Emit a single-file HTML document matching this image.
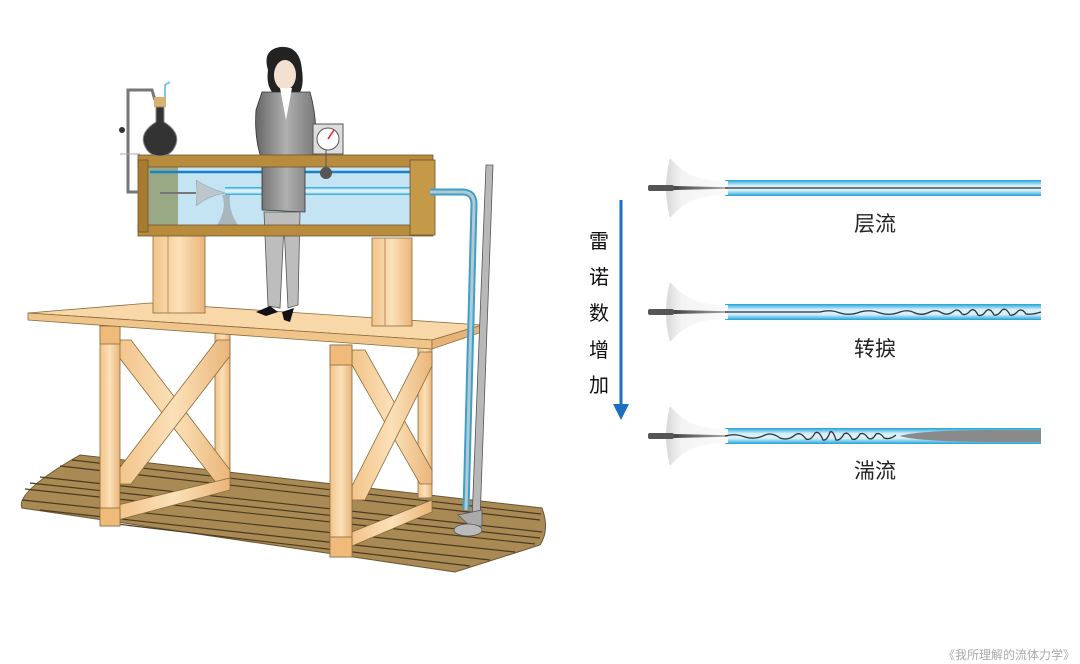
<!DOCTYPE html>
<html><head><meta charset="utf-8"><style>
html,body{margin:0;padding:0;background:#fff;}
svg{display:block}
text{font-family:"Liberation Sans","Noto Sans CJK SC",sans-serif;}
</style></head><body>
<svg width="1080" height="664" viewBox="0 0 1080 664" xmlns="http://www.w3.org/2000/svg">
<defs>
<linearGradient id="wood" x1="0" x2="1"><stop offset="0" stop-color="#f2c48a"/><stop offset=".5" stop-color="#fbe0b8"/><stop offset="1" stop-color="#eab57a"/></linearGradient>
<linearGradient id="tube" x1="0" y1="0" x2="0" y2="1"><stop offset="0" stop-color="#1aa3d8"/><stop offset=".35" stop-color="#d8f0fa"/><stop offset=".65" stop-color="#d8f0fa"/><stop offset="1" stop-color="#1aa3d8"/></linearGradient>
<linearGradient id="funnel" x1="0" x2="1"><stop offset="0" stop-color="#d8d8d8"/><stop offset=".25" stop-color="#f4f4f4"/><stop offset="1" stop-color="#fafafa"/></linearGradient>
<linearGradient id="rod" x1="0" x2="1"><stop offset="0" stop-color="#444"/><stop offset="1" stop-color="#aaa"/></linearGradient>
<linearGradient id="coat" x1="0" x2="1"><stop offset="0" stop-color="#666"/><stop offset=".5" stop-color="#b0b0b0"/><stop offset="1" stop-color="#777"/></linearGradient>
<g id="fun">
<path d="M670,158 Q684,174 700,178 Q712,181 728,181 L728,195 Q712,195 700,198 Q684,202 670,218 Q662,188 670,158Z" fill="url(#funnel)"/>
<rect x="648" y="185" width="26" height="6" rx="2" fill="#555"/>
<path d="M674,186 L728,187.3 L728,188.7 L674,190 Z" fill="url(#rod)"/>
</g>
</defs>

<!-- floor -->
<path d="M80,455 L542,508 Q550,530 540,545 L455,572 L22,508 Q15,492 80,455 Z" fill="#a98a55" stroke="#6b5530" stroke-width="1"/>
<g stroke="#4a3a20" stroke-width="1.2" fill="none">
<path d="M60,466 L540,520"/><path d="M40,477 L542,532"/><path d="M25,489 L535,544"/><path d="M22,500 L515,552"/><path d="M40,510 L490,560"/><path d="M100,522 L470,566"/><path d="M72,460 L541,514"/><path d="M30,483 L540,538"/>
</g>

<rect x="418" y="348" width="14" height="150" fill="url(#wood)" stroke="#8a6a3a" stroke-width=".8"/>
<g stroke="#8a6a3a" stroke-width=".8" fill="url(#wood)">
<rect x="215" y="328" width="15" height="155"/>
<path d="M118,340 L131,340 L230,470 L230,484 L217,484 L118,356 Z"/>
<path d="M217,340 L230,340 L230,356 L131,484 L118,484 L118,470 Z"/>
<path d="M118,505 L230,478 L230,490 L118,520 Z"/>
<rect x="100" y="326" width="20" height="200"/>
<rect x="100" y="508" width="20" height="18" fill="#f0bb7a"/>
<rect x="100" y="326" width="20" height="18" fill="#f0bb7a"/>
<path d="M352,350 L365,350 L432,470 L432,484 L420,484 L352,365 Z"/>
<path d="M420,352 L432,352 L432,366 L365,500 L352,500 L352,486 Z"/>
<path d="M352,532 L432,500 L432,512 L352,546 Z"/>
<rect x="330" y="345" width="22" height="212"/>
<rect x="330" y="537" width="22" height="20" fill="#f0bb7a"/>
<rect x="330" y="345" width="22" height="20" fill="#f0bb7a"/>
</g>
<path d="M28,313 L150,303 L482,325 L432,340 Z" fill="#f8d7a8" stroke="#8a6a3a" stroke-width=".8"/>
<path d="M28,313 L432,340 L432,349 L28,320 Z" fill="#f0c58c" stroke="#8a6a3a" stroke-width=".8"/>
<path d="M432,340 L482,325 L482,332 L432,349 Z" fill="#e6b478" stroke="#8a6a3a" stroke-width=".8"/>

<g stroke="#8a6a3a" stroke-width=".8" fill="url(#wood)">
<rect x="153" y="233" width="52" height="80"/>
<rect x="372" y="238" width="40" height="88"/>
</g>
<line x1="168" y1="233" x2="168" y2="313" stroke="#b88a55"/>
<line x1="385" y1="238" x2="385" y2="326" stroke="#b88a55"/>

<!-- tank -->
<rect x="140" y="160" width="290" height="70" fill="#c4e4f4"/>
<rect x="148" y="165" width="30" height="63" fill="#8f9a6a" opacity=".8"/>
<line x1="150" y1="172" x2="420" y2="172" stroke="#1a80c8" stroke-width="2.5"/>
<rect x="225" y="187" width="200" height="8" fill="url(#tube)"/>
<line x1="160" y1="193" x2="196" y2="193" stroke="#777" stroke-width="2"/>
<path d="M196,180 Q198,193 196,206 Q208,196 225,193 Q208,188 196,180Z" fill="#bcc6cc" stroke="#8899a0" stroke-width=".5"/>
<path d="M222,195 Q228,210 215,228 L240,228 Q228,212 230,195Z" fill="#a8b6be"/>

<!-- person -->
<g>
<path d="M268,70 Q262,50 280,47 Q300,45 302,70 Q304,85 300,92 L272,92 Q266,84 268,70Z" fill="#222"/>
<ellipse cx="285" cy="75" rx="11" ry="15" fill="#f4e0d0"/>
<path d="M262,92 L310,92 Q318,120 316,160 L305,165 L305,212 L262,210 L262,160 Q254,140 256,110 Z" fill="url(#coat)" stroke="#333" stroke-width=".8"/>
<path d="M280,88 L292,88 L286,120 Z" fill="#fff"/>
<path d="M264,212 L300,212 L298,305 L288,308 L284,225 L280,308 L268,306 Z" fill="#bdbdbd" stroke="#555" stroke-width=".8"/>
<path d="M256,312 L270,306 L278,312 L266,316 Z" fill="#111"/>
<path d="M282,312 L294,308 L290,322 L284,320 Z" fill="#111"/>
</g>

<g stroke="#6b5530" stroke-width=".8">
<rect x="138" y="155" width="295" height="12" fill="#b88c3c"/>
<rect x="138" y="225" width="295" height="11" fill="#b88c3c"/>
<rect x="138" y="160" width="10" height="72" fill="#a87c30"/>
<rect x="410" y="160" width="25" height="75" fill="#c49a48"/>
</g>
<rect x="313" y="124" width="30" height="30" fill="#ddd" stroke="#555"/>
<circle cx="328" cy="139" r="11" fill="#fff" stroke="#555"/>
<line x1="328" y1="139" x2="334" y2="130" stroke="#e02020" stroke-width="1.5"/>
<line x1="326" y1="150" x2="326" y2="167" stroke="#555"/>
<circle cx="326" cy="173" r="6" fill="#555"/>

<path d="M128,160 L128,90 L152,90 L155,100" fill="none" stroke="#777" stroke-width="3"/>
<path d="M128,160 L128,192 L138,192" fill="none" stroke="#777" stroke-width="3"/>
<circle cx="122" cy="130" r="3" fill="#333"/>
<rect x="154" y="97" width="12" height="10" fill="#d9b070"/>
<path d="M156,107 L164,107 L164,122 Q180,132 176,144 Q172,156 160,156 Q148,156 144,144 Q140,132 156,122Z" fill="#333" stroke="#888"/>
<path d="M165,97 L165,85 L170,82" stroke="#7cc8e8" stroke-width="2" fill="none"/>
<line x1="120" y1="154" x2="140" y2="154" stroke="#aaa"/>

<path d="M430,192 L462,192 Q474,192 474,204 L466,510" fill="none" stroke="#3aa0cc" stroke-width="7"/>
<path d="M430,192 L462,192 Q474,192 474,204 L466,510" fill="none" stroke="#b8c8d0" stroke-width="3"/>
<path d="M486,165 L493,165 L480,520 L472,520 Z" fill="#b8b8b8" stroke="#555" stroke-width=".8"/>
<path d="M458,515 L482,510 L482,526 L470,526 Z" fill="#aaa" stroke="#555" stroke-width=".8"/>
<ellipse cx="468" cy="530" rx="14" ry="6" fill="#bbb" stroke="#555" stroke-width=".8"/>

<!-- right tubes -->
<rect x="725" y="180" width="316" height="16" fill="url(#tube)"/>
<use href="#fun"/>
<line x1="725" y1="188" x2="1041" y2="188" stroke="#333" stroke-width="1.3"/>

<rect x="725" y="304" width="316" height="16" fill="url(#tube)"/>
<use href="#fun" transform="translate(0,124)"/>
<path d="M725,312 L820,312 Q830,309 840,313 Q850,316 860,312 Q870,309 880,313 Q890,316 900,312 Q908,309 915,313 Q922,316 930,312 Q936,309 942,313 Q948,316 954,311 Q958,308 962,314 Q966,316 970,311 Q974,307 978,315 Q982,317 986,311 Q990,307 994,315 Q998,316 1002,310 Q1006,307 1010,315 Q1014,316 1018,311 Q1022,308 1026,314 Q1032,315 1041,312" fill="none" stroke="#333" stroke-width="1.3"/>

<rect x="725" y="428" width="316" height="16" fill="url(#tube)"/>
<path d="M900,436 Q920,429 1041,430 L1041,442 Q920,443 900,436Z" fill="#8a8a8a"/>
<use href="#fun" transform="translate(0,248)"/>
<path d="M725,436 Q735,433 745,437 Q755,440 765,435 Q772,432 780,438 Q788,441 795,435 Q800,431 806,439 Q811,441 815,433 Q819,430 823,440 Q827,441 830,432 Q833,430 836,440 Q840,441 844,434 Q848,431 852,439 Q856,441 860,434 Q864,432 868,438 Q872,441 876,434 Q880,432 884,438 Q890,440 896,435" fill="none" stroke="#333" stroke-width="1.3"/>

<g font-size="21" text-anchor="middle" fill="#222" style="font-family:'Liberation Serif','Noto Serif CJK SC',serif">
<text x="875" y="231">层流</text>
<text x="875" y="356">转捩</text>
<text x="875" y="478">湍流</text>
</g>

<line x1="621" y1="200" x2="621" y2="408" stroke="#1a6fc0" stroke-width="3"/>
<path d="M613,404 L629,404 L621,420 Z" fill="#1a6fc0"/>
<g font-size="20" fill="#111" text-anchor="middle">
<text x="599" y="248">雷</text>
<text x="599" y="284">诺</text>
<text x="599" y="320">数</text>
<text x="599" y="357">增</text>
<text x="599" y="392">加</text>
</g>

<text x="1075" y="659" font-size="12" fill="#aaa" text-anchor="end">《我所理解的流体力学》</text>
</svg>
</body></html>
